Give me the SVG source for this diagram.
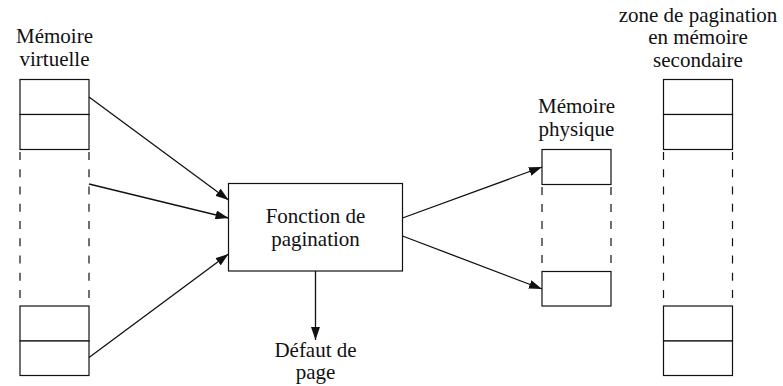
<svg xmlns="http://www.w3.org/2000/svg" width="783" height="386" viewBox="0 0 783 386">
  <style>
    .lbl { font-family: 'Liberation Serif', 'DejaVu Serif', serif; font-size: 21px; fill: #111; text-anchor: middle; }
    .box { fill: #fff; stroke: #111; stroke-width: 1.2; }
    .dash { stroke: #111; stroke-width: 1.2; stroke-dasharray: 8 9.25; fill: none; }
    .dash-short { stroke-dasharray: 8 9; }
    .edge { stroke: #111; stroke-width: 1.3; fill: none; marker-end: url(#head); }
  </style>
  <defs>
    <marker id="head" markerUnits="userSpaceOnUse" markerWidth="13" markerHeight="9" viewBox="0 0 13 9" refX="13" refY="4.5" orient="auto">
      <path d="M0,0 L13,4.5 L0,9 Z" fill="#111"/>
    </marker>
  </defs>

  <rect width="783" height="386" fill="#fff"/>

  <!-- virtual memory column -->
  <g id="virtual-memory">
    <text class="lbl" x="54.5" y="43">Mémoire</text>
    <text class="lbl" x="54.5" y="65.5">virtuelle</text>
    <rect class="box" x="20" y="79.5" width="69" height="35"/>
    <rect class="box" x="20" y="114.5" width="69" height="35"/>
    <line class="dash" x1="20" y1="152" x2="20" y2="298"/>
    <line class="dash" x1="89" y1="152" x2="89" y2="298"/>
    <rect class="box" x="20" y="306" width="69" height="35"/>
    <rect class="box" x="20" y="341" width="69" height="34.5"/>
  </g>

  <!-- paging function -->
  <g id="paging-function">
    <rect class="box" x="228.5" y="183.5" width="174" height="87.5"/>
    <text class="lbl" x="315.5" y="223">Fonction de</text>
    <text class="lbl" x="315.5" y="245.5">pagination</text>
  </g>

  <!-- page fault label -->
  <g id="page-fault">
    <text class="lbl" x="315.5" y="357">Défaut de</text>
    <text class="lbl" x="315.5" y="379">page</text>
  </g>

  <!-- physical memory column -->
  <g id="physical-memory">
    <text class="lbl" x="576.5" y="113">Mémoire</text>
    <text class="lbl" x="576.5" y="135.5">physique</text>
    <rect class="box" x="542" y="149.5" width="69" height="35"/>
    <line class="dash dash-short" x1="542" y1="187" x2="542" y2="263"/>
    <line class="dash dash-short" x1="611" y1="187" x2="611" y2="263"/>
    <rect class="box" x="542" y="271.5" width="69" height="34.5"/>
  </g>

  <!-- secondary storage paging area -->
  <g id="swap-area">
    <text class="lbl" x="698" y="21.5">zone de pagination</text>
    <text class="lbl" x="698" y="44">en mémoire</text>
    <text class="lbl" x="698" y="66.5">secondaire</text>
    <rect class="box" x="663.5" y="79.5" width="69" height="35"/>
    <rect class="box" x="663.5" y="114.5" width="69" height="35"/>
    <line class="dash" x1="663.5" y1="152" x2="663.5" y2="298"/>
    <line class="dash" x1="732.5" y1="152" x2="732.5" y2="298"/>
    <rect class="box" x="663.5" y="306" width="69" height="35"/>
    <rect class="box" x="663.5" y="341" width="69" height="34.5"/>
  </g>

  <!-- connectors -->
  <g id="connectors">
    <line class="edge" x1="89" y1="97" x2="228.5" y2="200"/>
    <line class="edge" x1="89" y1="184" x2="228.5" y2="218"/>
    <line class="edge" x1="89" y1="357.5" x2="228.5" y2="254"/>
    <line class="edge" x1="402.5" y1="218" x2="542" y2="167"/>
    <line class="edge" x1="402.5" y1="236" x2="542" y2="289"/>
    <line class="edge" x1="315.5" y1="271" x2="315.5" y2="340"/>
  </g>
</svg>
